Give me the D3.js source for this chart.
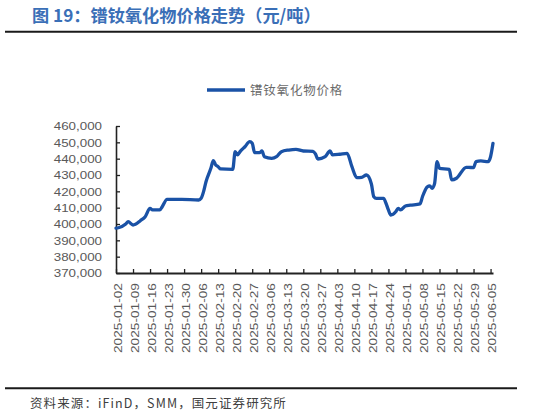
<!DOCTYPE html>
<html>
<head>
<meta charset="utf-8">
<script src="https://cdn.jsdelivr.net/npm/d3@7"></script>
<style>
html,body{margin:0;padding:0;background:#fff;}
svg{display:block;}
</style>
</head>
<body>
<svg id="chart" width="533" height="418"></svg>
<script>
const titleText = "图 19：镨钕氧化物价格走势（元/吨）";
const sourceText = "资料来源：iFinD，SMM，国元证券研究所";
const seriesName = "镨钕氧化物价格";

const dates = [
"2025-01-02","2025-01-03","2025-01-06","2025-01-07","2025-01-09","2025-01-10","2025-01-12","2025-01-14",
"2025-01-16","2025-01-17","2025-01-20","2025-01-21","2025-01-23","2025-01-29","2025-02-05","2025-02-06",
"2025-02-07","2025-02-08","2025-02-10","2025-02-11","2025-02-12","2025-02-13","2025-02-14","2025-02-19",
"2025-02-20","2025-02-21","2025-02-22","2025-02-24","2025-02-26","2025-02-27","2025-02-28","2025-03-02",
"2025-03-03","2025-03-04","2025-03-07","2025-03-09","2025-03-11","2025-03-14","2025-03-17","2025-03-20",
"2025-03-24","2025-03-25","2025-03-26","2025-03-29","2025-03-31","2025-04-01","2025-04-04","2025-04-07",
"2025-04-09","2025-04-11","2025-04-13","2025-04-15","2025-04-17","2025-04-18","2025-04-19","2025-04-22",
"2025-04-23","2025-04-24","2025-04-25","2025-04-27","2025-04-28","2025-04-29","2025-05-01","2025-05-03",
"2025-05-07","2025-05-08","2025-05-10","2025-05-11","2025-05-12","2025-05-13","2025-05-14","2025-05-15",
"2025-05-19","2025-05-20","2025-05-22","2025-05-26","2025-05-27","2025-05-29","2025-05-30","2025-06-01",
"2025-06-04","2025-06-05","2025-06-06"
];
const prices = [
397500,397700,400000,401400,399400,399800,402000,404500,
409600,408600,408600,410600,415100,415100,414700,415700,
419800,425900,434100,438800,436100,435100,433700,433500,
444300,442300,444300,447300,450400,449400,443700,443700,
444700,441200,440200,441200,444300,445300,445700,444700,
444500,442900,439800,441200,444700,442300,442700,443300,
435100,428400,428600,430000,424500,416700,415700,415700,
412700,408600,405500,407500,409600,408600,411000,411500,
412300,416700,422800,423300,421900,424900,438200,434100,
433500,427000,428000,434700,434700,434500,438200,438600,
438200,441200,449400
];
const yTickValues = [370000,380000,390000,400000,410000,420000,430000,440000,450000,460000];
const xTickStart = "2025-01-02";
const xTickEnd = "2025-06-06";
const xDomain = ["2025-01-02","2025-06-06"];

const parse = d3.utcParse("%Y-%m-%d");
const fmtDate = d3.utcFormat("%Y-%m-%d");
const fmtNum = d3.format(",");
const data = dates.map((d,i)=>({date:parse(d), v:prices[i]}));

const svg = d3.select("#chart");
const blue = "#1a52a6";
const latin = "'Liberation Sans', Arial, sans-serif";
const cjk = "'Noto Sans CJK SC', sans-serif";

// title
svg.append("text").attr("x",32).attr("y",22)
  .attr("font-family", cjk).attr("font-weight",700).attr("font-size",17.2)
  .attr("fill","#3a6fb7").text(titleText);
svg.append("line").attr("x1",5).attr("x2",517).attr("y1",31.7).attr("y2",31.7)
  .attr("stroke","#1a1a1a").attr("stroke-width",2);

// legend
svg.append("line").attr("x1",207).attr("x2",245).attr("y1",90).attr("y2",90)
  .attr("stroke",blue).attr("stroke-width",3.5);
svg.append("text").attr("x",250).attr("y",94.5)
  .attr("font-family", cjk).attr("font-size",12.5).attr("fill","#6b6b6b")
  .attr("letter-spacing",0.8).text(seriesName);

const x = d3.scaleUtc().domain(xDomain.map(parse)).range([116,493]);
const y = d3.scaleLinear().domain([370000,460000]).range([273,126]);

// y axis
const yAxis = svg.append("g").attr("transform","translate(116,0)")
  .call(d3.axisLeft(y).tickValues(yTickValues).tickFormat(fmtNum)
        .tickSizeInner(-4).tickSizeOuter(0).tickPadding(14));
yAxis.select(".domain").attr("stroke","#222").attr("stroke-width",1.6);
yAxis.selectAll(".tick line").attr("stroke","#222").attr("stroke-width",1.3);
yAxis.selectAll(".tick text").attr("font-family",latin).attr("font-size",11.8)
  .attr("fill","#595959").attr("textLength",48.3).attr("lengthAdjust","spacingAndGlyphs");

// x axis
const xTicks = d3.utcDay.range(parse(xTickStart), parse(xTickEnd), 7);
const xAxis = svg.append("g").attr("transform","translate(0,273)")
  .call(d3.axisBottom(x).tickValues(xTicks).tickFormat(fmtDate)
        .tickSizeInner(-4).tickSizeOuter(0).tickPadding(10));
xAxis.select(".domain").attr("stroke","#222").attr("stroke-width",2);
xAxis.selectAll(".tick line").attr("stroke","#222").attr("stroke-width",1.3);
xAxis.selectAll(".tick text")
  .attr("font-family",latin).attr("font-size",11.8).attr("fill","#595959")
  .attr("text-anchor","end").attr("transform","rotate(-90)")
  .attr("x",-10).attr("y",1).attr("dy","0.35em")
  .attr("textLength",70).attr("lengthAdjust","spacingAndGlyphs");

// line
const line = d3.line().x(d=>x(d.date)).y(d=>y(d.v)).curve(d3.curveMonotoneX);
svg.append("path").datum(data).attr("d",line)
  .attr("fill","none").attr("stroke",blue).attr("stroke-width",3.3)
  .attr("stroke-linejoin","round").attr("stroke-linecap","round");

// footer
svg.append("line").attr("x1",5).attr("x2",517).attr("y1",388.3).attr("y2",388.3)
  .attr("stroke","#1a1a1a").attr("stroke-width",2);
svg.append("text").attr("x",30).attr("y",408)
  .attr("font-family", cjk).attr("font-size",12.5).attr("fill","#404040")
  .attr("letter-spacing",1.1).text(sourceText);
</script>
</body>
</html>
